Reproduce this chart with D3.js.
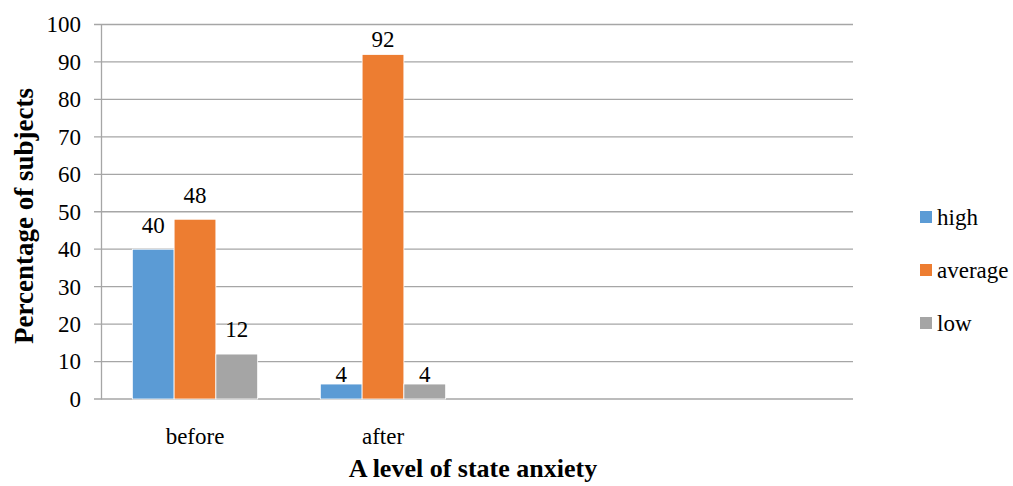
<!DOCTYPE html>
<html>
<head>
<meta charset="utf-8">
<script src="https://cdn.jsdelivr.net/npm/d3@7"></script>
<style>
  body { margin: 0; background: #fff; }
  svg { display: block; }
  svg text { font-family: "Liberation Serif", "Times New Roman", "DejaVu Serif", serif !important; }
</style>
</head>
<body>
<svg id="chart" width="1013" height="486"></svg>
<script>
// Share of subjects by state-anxiety level, before and after
const categories = ["before", "after", "", " "];
const seriesNames = ["high", "average", "low"];
const seriesColors = ["#5B9BD5", "#ED7D31", "#A5A5A5"];
const highValues = [40, 4];
const averageValues = [48, 92];
const lowValues = [12, 4];
const yTicks = [0, 10, 20, 30, 40, 50, 60, 70, 80, 90, 100];

// vertical gap between each bar top and its value label, per category
const labelGap = [[16, 16, 17], [2, 7, 2]];

const series = [highValues, averageValues, lowValues];
const FONT = '"Liberation Serif", "Times New Roman", serif';

const svg = d3.select("#chart");
const plot = { left: 101, right: 853, top: 24.5, bottom: 399 };

const x = d3.scaleBand()
  .domain(categories)
  .range([plot.left, plot.right])
  .padding(0);

const xInner = d3.scaleBand()
  .domain(seriesNames)
  .range([0, x.bandwidth()])
  .paddingInner(0)
  .paddingOuter(0.75);

const y = d3.scaleLinear()
  .domain([0, 100])
  .range([plot.bottom, plot.top]);

// horizontal gridlines with short ticks left of the axis
svg.append("g").selectAll("line")
  .data(yTicks)
  .join("line")
  .attr("x1", plot.left - 7)
  .attr("x2", plot.right)
  .attr("y1", d => y(d))
  .attr("y2", d => y(d))
  .attr("stroke", "#A6A6A6")
  .attr("stroke-width", 1.3);

// y axis line and labels
const yAxis = svg.append("g")
  .attr("transform", `translate(${plot.left},0)`)
  .call(d3.axisLeft(y).tickValues(yTicks).tickSize(0).tickPadding(20));
yAxis.attr("font-family", FONT).attr("font-size", 23);
yAxis.select(".domain").attr("stroke", "#A6A6A6").attr("stroke-width", 1.3);
yAxis.selectAll("text").attr("fill", "#000");

// x labels
const xAxis = svg.append("g")
  .attr("transform", `translate(0,${plot.bottom})`)
  .call(d3.axisBottom(x).tickSize(0).tickPadding(29));
xAxis.attr("font-family", FONT).attr("font-size", 23);
xAxis.select(".domain").remove();
xAxis.selectAll("text").attr("fill", "#000");

// bars
const rows = [];
categories.forEach((c, ci) => {
  seriesNames.forEach((s, si) => {
    const v = series[si][ci];
    if (v !== undefined) rows.push({ c, ci, s, si, v });
  });
});

svg.append("g").selectAll("rect")
  .data(rows)
  .join("rect")
  .attr("x", d => x(d.c) + xInner(d.s))
  .attr("width", xInner.bandwidth())
  .attr("y", d => y(d.v))
  .attr("height", d => y(0) - y(d.v))
  .attr("fill", d => seriesColors[d.si])
  .attr("stroke", "#fff")
  .attr("stroke-width", 0.8);

// value labels
svg.append("g")
  .attr("font-family", FONT)
  .attr("font-size", 23)
  .selectAll("text")
  .data(rows)
  .join("text")
  .attr("x", d => x(d.c) + xInner(d.s) + xInner.bandwidth() / 2)
  .attr("y", d => y(d.v) - labelGap[d.ci][d.si])
  .attr("text-anchor", "middle")
  .attr("fill", "#000")
  .text(d => d.v);

// legend
const legend = svg.append("g")
  .attr("font-family", FONT)
  .attr("font-size", 23)
  .attr("transform", "translate(920,217)");
const item = legend.selectAll("g")
  .data(seriesNames)
  .join("g")
  .attr("transform", (d, i) => `translate(0,${i * 53})`);
item.append("rect")
  .attr("x", 0).attr("y", -6)
  .attr("width", 12).attr("height", 12)
  .attr("fill", (d, i) => seriesColors[i]);
item.append("text")
  .attr("x", 17).attr("y", 0)
  .attr("dy", "0.35em")
  .attr("fill", "#000")
  .text(d => d);

// axis titles
svg.append("text")
  .attr("transform", "translate(33,216) rotate(-90)")
  .attr("text-anchor", "middle")
  .attr("font-family", FONT)
  .attr("font-size", 27)
  .attr("font-weight", "bold")
  .attr("fill", "#000")
  .text("Percentage of subjects");

svg.append("text")
  .attr("x", 473)
  .attr("y", 477)
  .attr("text-anchor", "middle")
  .attr("font-family", FONT)
  .attr("font-size", 26)
  .attr("font-weight", "bold")
  .attr("fill", "#000")
  .text("A level of state anxiety");
</script>
</body>
</html>
